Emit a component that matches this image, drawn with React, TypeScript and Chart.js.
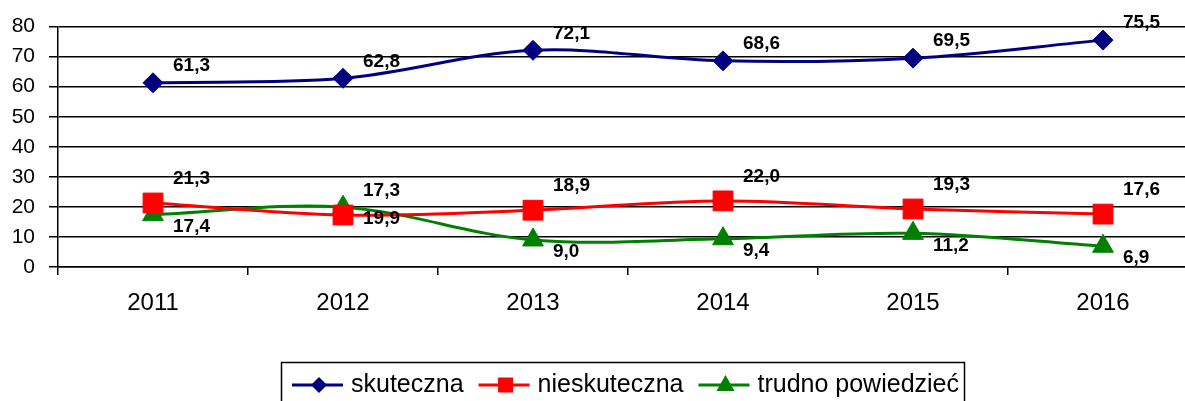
import React, { useEffect, useRef } from "react";
import { Chart, registerables } from "chart.js";

Chart.register(...registerables);

const categories = ["2011", "2012", "2013", "2014", "2015", "2016"];
const skuteczna = [61.3, 62.8, 72.1, 68.6, 69.5, 75.5];
const nieskuteczna = [21.3, 17.3, 18.9, 22.0, 19.3, 17.6];
const trudnoPowiedziec = [17.4, 19.9, 9.0, 9.4, 11.2, 6.9];
const seriesNames = ["skuteczna", "nieskuteczna", "trudno powiedzieć"];
const yMin = 0;
const yMax = 80;
const yStep = 10;

const COLORS = ["#000080", "#FF0000", "#008000"];
const STYLES = ["rectRot", "rect", "triangle"];
const FONT = "'Liberation Sans', Arial, sans-serif";
const LABEL_DY = [-17, -24, 12];

function fmt(v: number) {
  return v.toFixed(1).replace(".", ",");
}

function drawMarker(ctx: CanvasRenderingContext2D, style: string, x: number, y: number, color: string) {
  ctx.save();
  ctx.fillStyle = color;
  ctx.beginPath();
  if (style === "rectRot") {
    const r = 8;
    ctx.moveTo(x - r, y);
    ctx.lineTo(x, y - r);
    ctx.lineTo(x + r, y);
    ctx.lineTo(x, y + r);
    ctx.closePath();
  } else if (style === "rect") {
    const s = 7.5;
    ctx.rect(x - s, y - s, 2 * s, 2 * s);
  } else {
    const r = 10;
    ctx.moveTo(x, y - r);
    ctx.lineTo(x + r * 0.9, y + r * 0.6);
    ctx.lineTo(x - r * 0.9, y + r * 0.6);
    ctx.closePath();
  }
  ctx.fill();
  ctx.restore();
}

const labelsPlugin = {
  id: "valueLabels",
  afterDatasetsDraw(chart: any) {
    const ctx: CanvasRenderingContext2D = chart.ctx;
    ctx.save();
    ctx.font = `bold 19px ${FONT}`;
    ctx.fillStyle = "#000";
    ctx.textAlign = "left";
    ctx.textBaseline = "middle";
    chart.data.datasets.forEach((ds: any, di: number) => {
      const meta = chart.getDatasetMeta(di);
      meta.data.forEach((pt: any, i: number) => {
        ctx.fillText(fmt(ds.data[i]), pt.x + 20, pt.y + LABEL_DY[di]);
      });
    });
    ctx.restore();
  },
};

const legendPlugin = {
  id: "boxLegend",
  afterDraw(chart: any) {
    const ctx: CanvasRenderingContext2D = chart.ctx;
    ctx.save();
    ctx.strokeStyle = "#000";
    ctx.lineWidth = 1.5;
    ctx.strokeRect(281.5, 362.5, 683, 50);
    ctx.font = `25px ${FONT}`;
    ctx.textBaseline = "middle";
    ctx.textAlign = "left";
    const cy = 385;
    let x = 292;
    seriesNames.forEach((name, i) => {
      ctx.strokeStyle = COLORS[i];
      ctx.lineWidth = 3;
      ctx.beginPath();
      ctx.moveTo(x, cy);
      ctx.lineTo(x + 51, cy);
      ctx.stroke();
      drawMarker(ctx, STYLES[i], x + 27, cy, COLORS[i]);
      const tx = x + 59;
      ctx.fillStyle = "#000";
      ctx.fillText(name, tx, cy);
      x = tx + ctx.measureText(name).width + 15;
    });
    ctx.restore();
  },
};

export default function App() {
  const canvasRef = useRef<HTMLCanvasElement | null>(null);

  useEffect(() => {
    if (!canvasRef.current) return;
    const series = [skuteczna, nieskuteczna, trudnoPowiedziec];
    const radii = [10, 14, 12];
    const chart = new Chart(canvasRef.current, {
      type: "line",
      data: {
        labels: categories,
        datasets: series.map((d, i) => ({
          label: seriesNames[i],
          data: d,
          borderColor: COLORS[i],
          backgroundColor: COLORS[i],
          borderWidth: 3,
          tension: 0.35,
          pointStyle: STYLES[i] as any,
          pointRadius: radii[i],
          pointHoverRadius: radii[i],
          pointBorderWidth: 1,
          pointBorderColor: COLORS[i],
          pointBackgroundColor: COLORS[i],
          fill: false,
          clip: false as any,
        })),
      },
      options: {
        animation: false,
        responsive: false,
        maintainAspectRatio: false,
        events: [],
        layout: { autoPadding: false, padding: { top: 23, right: 2, bottom: 0, left: 0 } },
        plugins: {
          legend: { display: false },
          tooltip: { enabled: false },
          title: { display: false },
        },
        scales: {
          x: {
            offset: true,
            grid: {
              offset: true,
              drawOnChartArea: false,
              drawTicks: true,
              tickLength: 8,
              color: "#000",
              lineWidth: 1.5,
            },
            border: { display: true, color: "#000", width: 1.5 },
            ticks: {
              color: "#000",
              font: { family: FONT, size: 24 },
              padding: 14,
              maxRotation: 0,
            },
            afterFit(scale: any) {
              scale.height = 134;
              scale.paddingLeft = 0;
              scale.paddingRight = 0;
            },
          },
          y: {
            min: yMin,
            max: yMax,
            ticks: {
              stepSize: yStep,
              color: "#000",
              font: { family: FONT, size: 21 },
              padding: 14,
            },
            grid: {
              color: "#000",
              lineWidth: 1.5,
              drawTicks: true,
              tickLength: 9,
            },
            border: { display: true, color: "#000", width: 1.5 },
            afterFit(scale: any) {
              scale.width = 58;
            },
          },
        },
      },
      plugins: [labelsPlugin, legendPlugin],
    });
    return () => chart.destroy();
  }, []);

  return (
    <div
      style={{
        position: "fixed",
        left: 0,
        top: 0,
        width: "1185px",
        height: "401px",
        background: "#fff",
        overflow: "hidden",
      }}
    >
      <canvas
        ref={canvasRef}
        width={1200}
        height={401}
        style={{ display: "block", width: "1200px", height: "401px" }}
      />
    </div>
  );
}
